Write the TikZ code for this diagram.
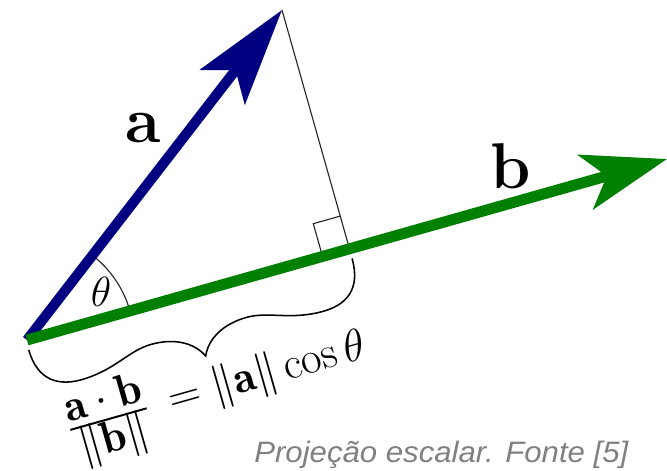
\RequirePackage{fix-cm}
\documentclass[tikz,border=0pt]{standalone}
\usepackage{fontspec}
\newfontfamily\capfont{Liberation Sans}
\usetikzlibrary{arrows.meta,calc}
\definecolor{vecA}{RGB}{0,0,128}
\definecolor{vecB}{RGB}{0,128,0}
\definecolor{capgray}{RGB}{128,128,128}
\newcommand\projfrac[2]{%
  \mathord{%
    \setbox0=\hbox{$\displaystyle #1$}%
    \setbox2=\hbox{$\displaystyle #2$}%
    \ifdim\wd0<\wd2 \setbox0=\hbox to\wd2{\hfil\unhbox0\hfil}\else\setbox2=\hbox to\wd0{\hfil\unhbox2\hfil}\fi
    \dimen0=\wd0
    \raise\dimexpr\fontdimen22\textfont2+0.18em\relax\copy0
    \kern-\dimen0
    \raise\fontdimen22\textfont2\hbox{\vrule width\dimen0 height 0.7pt depth 0.7pt}%
    \kern-\dimen0
    \lower\dimexpr0.73em-\fontdimen22\textfont2\relax\copy2
  }}
\begin{document}
\begin{tikzpicture}[x=0.025cm,y=-0.025cm,
  thinline/.style={draw=black!85,line width=0.8pt},
  bracestyle/.style={draw=black,line width=1.1pt},
  veca/.style={draw=vecA,fill=vecA,line width=7.2pt,-{Stealth[length=69pt,width=40pt,inset=15pt]}},
  vecb/.style={draw=vecB,fill=vecB,line width=7.8pt,-{Stealth[length=60pt,width=40pt,inset=15.6pt]}},
  biglab/.style={inner sep=0pt,font=\fontsize{46}{50}\selectfont},
  mathlab/.style={inner sep=0pt,font=\fontsize{30}{36}\selectfont},
  eqlab/.style={inner sep=0pt,font=\fontsize{32}{38}\selectfont},
  caplab/.style={inner sep=0pt,text=capgray,font=\capfont\itshape\fontsize{21}{25}\selectfont}]
\useasboundingbox (0,0) rectangle (667,470);
\coordinate (O) at (27,340);
\coordinate (A) at (282,10);
\coordinate (B) at (667,159);
\coordinate (F) at ($(O)!(A)!(B)$);
\coordinate (S1) at ($(F)!0.7cm!(O)$);
\coordinate (S3) at ($(F)!0.85cm!(A)$);
\coordinate (S2) at ($(S1)+(S3)-(F)$);
% perpendicular and right angle
\draw[thinline] (A) -- (F);
\draw[thinline] (S1) -- (S2) -- (S3);
% angle arc
\draw[thinline] ($(O)+(-15.8:107)$) arc[start angle=-15.8,end angle=-52.3,radius=107];
% vectors
\draw[veca] (O) -- (A);
\draw[vecb] (O) -- (B);
% brace
\begin{scope}[shift={(O)},rotate=15.8]
\draw[bracestyle] (-1,10) .. controls (-1,42) and (18,54) .. (45,53)
  .. controls (78,52) and (95,38) .. (118,38)
  .. controls (142,38) and (160,48) .. (167.6,64)
  .. controls (175,48) and (193,38) .. (217,38)
  .. controls (240,38) and (257,52) .. (290,53)
  .. controls (317,54) and (335,42) .. (335,10);
\end{scope}
% labels
\node[biglab] (la) at (143,128) {\textbf{a}};
\node[biglab] (lb) at (511,166) {\textbf{b}};
\node[mathlab] (th) at (101,292) {$\theta$};
\node[eqlab,rotate=15.8,anchor=base west] (eq) at (73.1,440.8) {$\projfrac{\mathbf{a}\cdot\mathbf{b}}{\|\mathbf{b}\|}\mskip4.5mu=\|\mathbf{a}\|\cos\theta$};
\node[caplab,anchor=base west,xscale=1.055] (cap) at (254,462) {Projeção escalar. Fonte [5]};
\end{tikzpicture}
\end{document}
